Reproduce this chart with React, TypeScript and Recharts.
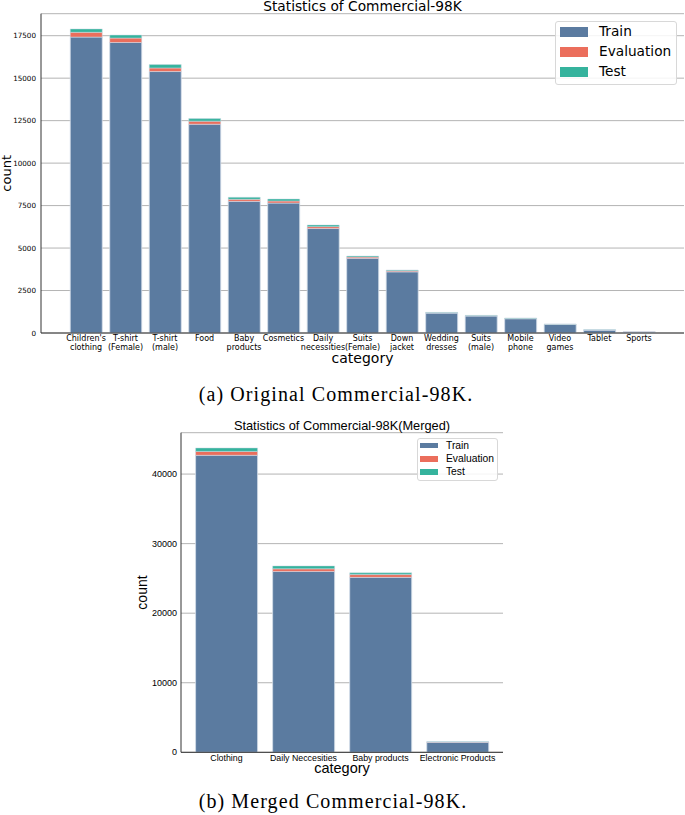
import React from 'react';
import { BarChart, Bar, XAxis, YAxis, CartesianGrid, Legend } from 'recharts';

// ---------- Data: (a) Original Commercial-98K ----------
const categoriesA = [
  "Children's clothing", 'T-shirt (Female)', 'T-shirt (male)', 'Food', 'Baby products',
  'Cosmetics', 'Daily necessities', 'Suits(Female)', 'Down jacket', 'Wedding dresses',
  'Suits (male)', 'Mobile phone', 'Video games', 'Tablet', 'Sports',
];
const tickLabelsA = [
  ["Children's", 'clothing'], ['T-shirt', '(Female)'], ['T-shirt', '(male)'], ['Food'],
  ['Baby', 'products'], ['Cosmetics'], ['Daily', 'necessities'], ['Suits', '(Female)'],
  ['Down', 'jacket'], ['Wedding', 'dresses'], ['Suits', '(male)'], ['Mobile', 'phone'],
  ['Video', 'games'], ['Tablet'], ['Sports'],
];
const trainA = [17420, 17100, 15390, 12290, 7750, 7650, 6150, 4400, 3600, 1170, 1000, 840, 500, 170, 60];
const evalA = [280, 260, 210, 180, 120, 120, 110, 70, 60, 25, 20, 20, 15, 10, 8];
const testA = [200, 180, 200, 150, 120, 120, 100, 60, 50, 20, 20, 20, 15, 15, 10];
const yTicksA = [0, 2500, 5000, 7500, 10000, 12500, 15000, 17500];

// ---------- Data: (b) Merged Commercial-98K ----------
const categoriesB = ['Clothing', 'Daily Neccesities', 'Baby products', 'Electronic Products'];
const trainB = [42700, 26000, 25150, 1460];
const evalB = [560, 380, 400, 30];
const testB = [500, 420, 250, 35];
const yTicksB = [0, 10000, 20000, 30000, 40000];

const seriesNames = ['Train', 'Evaluation', 'Test'];

const dataA = categoriesA.map((name, i) => ({ name, train: trainA[i], evaluation: evalA[i], test: testA[i] }));
const dataB = categoriesB.map((name, i) => ({ name, train: trainB[i], evaluation: evalB[i], test: testB[i] }));

const maxA = Math.max(...dataA.map((d) => d.train + d.evaluation + d.test)) * 1.05;
const maxB = Math.max(...dataB.map((d) => d.train + d.evaluation + d.test)) * 1.05;

const FONT_A = '"DejaVu Sans", sans-serif';
const FONT_B = '"Liberation Sans", Arial, sans-serif';
const FONT_CAP = '"Liberation Serif", "Times New Roman", serif';
const C_TRAIN = '#5b7ba0';
const C_EVAL = '#eb6e5c';
const C_TEST = '#35b39d';
const EDGE = '#d3dde8';
const GRID = '#b4b4b4';
const SPINE = '#333333';

const TickA = (props: any) => {
  const { x, y, payload } = props;
  const idx = categoriesA.indexOf(payload.value);
  const lines = idx >= 0 ? tickLabelsA[idx] : [String(payload.value)];
  return (
    <text x={x} y={y} textAnchor="middle" fontFamily={FONT_A} fontSize={8} fill="#000">
      {lines.map((l: string, i: number) => (
        <tspan key={i} x={x} y={y + 7.5 + i * 9}>{l}</tspan>
      ))}
    </text>
  );
};

const TickB = (props: any) => {
  const { x, y, payload } = props;
  return (
    <text x={x} y={y + 9} textAnchor="middle" fontFamily={FONT_B} fontSize={8.8} fill="#000">
      {payload.value}
    </text>
  );
};

const AxisTitle = (props: any) => {
  const { viewBox, text, vertical, dx = 0, dy = 0, fontFamily, fontSize } = props;
  const vb = viewBox || { x: 0, y: 0, width: 0, height: 0 };
  if (vertical) {
    const cx = vb.x + dx;
    const cy = vb.y + vb.height / 2;
    return (
      <text x={cx} y={cy} transform={`rotate(-90 ${cx} ${cy})`} textAnchor="middle"
        fontFamily={fontFamily} fontSize={fontSize} fill="#000">{text}</text>
    );
  }
  const cx = vb.x + vb.width / 2;
  const cy = vb.y + dy;
  return (
    <text x={cx} y={cy} textAnchor="middle" fontFamily={fontFamily} fontSize={fontSize} fill="#000">{text}</text>
  );
};

const makeLegend = (opts: any) => (props: any) => {
  const items = [...(props.payload || [])].sort(
    (a: any, b: any) => seriesNames.indexOf(a.value) - seriesNames.indexOf(b.value)
  );
  return (
    <div style={{
      boxSizing: 'border-box', width: opts.w, height: opts.h, border: '1px solid #d8d8d8',
      borderRadius: 3, background: 'rgba(255,255,255,0.85)', paddingTop: opts.padTop,
      paddingLeft: opts.padLeft, fontFamily: opts.font, fontSize: opts.fontSize, color: '#000',
    }}>
      {items.map((p: any, i: number) => (
        <div key={i} style={{ display: 'flex', alignItems: 'center', height: opts.rowH, whiteSpace: 'nowrap' }}>
          <span style={{ display: 'inline-block', width: opts.sw, height: opts.sh, background: p.color, marginRight: opts.gap }} />
          <span style={{ lineHeight: 1 }}>{p.value}</span>
        </div>
      ))}
    </div>
  );
};

const LegendA = makeLegend({ w: 122, h: 64.3, padTop: 0.5, padLeft: 4, font: FONT_A, fontSize: 13.7, rowH: 20, sw: 28, sh: 9.5, gap: 11 });
const LegendB = makeLegend({ w: 81.3, h: 42.7, padTop: 0, padLeft: 2.3, font: FONT_B, fontSize: 10.3, rowH: 13.3, sw: 18.3, sh: 5.5, gap: 7.7 });

export default function App() {
  return (
    <div style={{ position: 'absolute', left: 0, top: 0, width: 685, height: 815, background: '#fff', overflow: 'hidden' }}>
      {/* (a) */}
      <div style={{ position: 'absolute', left: 0, top: 0 }}>
        <BarChart width={685} height={380} data={dataA} margin={{ top: 13.7, right: 1, bottom: 0, left: 0 }}>
          <CartesianGrid vertical={false} stroke={GRID} strokeWidth={1} />
          <XAxis dataKey="name" interval={0} tick={<TickA />} tickLine={false} tickSize={0} tickMargin={0}
            height={47} padding={{ left: 25.3, right: 25.3 }} axisLine={{ stroke: SPINE }}
            label={<AxisTitle text="category" dy={29.5} fontFamily={FONT_A} fontSize={14} />} />
          <XAxis xAxisId="top" dataKey="name" orientation="top" height={0} tick={false} tickLine={false} axisLine={{ stroke: SPINE }} />
          <YAxis type="number" domain={[0, maxA]} ticks={yTicksA} width={41} tickLine={false} tickSize={3} tickMargin={2}
            tick={{ fontFamily: FONT_A, fontSize: 7.2, fill: '#000' }} axisLine={{ stroke: SPINE }}
            label={<AxisTitle text="count" vertical dx={11.5} fontFamily={FONT_A} fontSize={13} />} />
          <YAxis yAxisId="right" orientation="right" width={0} tick={false} tickLine={false} axisLine={{ stroke: SPINE }} />
          <Legend layout="vertical" align="center" verticalAlign="middle" content={LegendA}
            wrapperStyle={{ left: 555, top: 20.7, width: 122, height: 64.3 }} />
          <Bar dataKey="train" name={seriesNames[0]} stackId="s" fill={C_TRAIN} stroke={EDGE} strokeWidth={0.8} isAnimationActive={false} />
          <Bar dataKey="evaluation" name={seriesNames[1]} stackId="s" fill={C_EVAL} stroke={EDGE} strokeWidth={0.5} isAnimationActive={false} />
          <Bar dataKey="test" name={seriesNames[2]} stackId="s" fill={C_TEST} stroke={EDGE} strokeWidth={0.5} isAnimationActive={false} />
        </BarChart>
      </div>

      {/* (b) */}
      <div style={{ position: 'absolute', left: 0, top: 410 }}>
        <BarChart width={685} height={400} data={dataB} margin={{ top: 22.7, right: 182, bottom: 0, left: 120 }}>
          <CartesianGrid vertical={false} stroke={GRID} strokeWidth={1} />
          <XAxis dataKey="name" interval={0} tick={<TickB />} tickLine={false} tickSize={0} tickMargin={0}
            height={57.7} padding={{ left: 6.9, right: 6.9 }} axisLine={{ stroke: SPINE }}
            label={<AxisTitle text="category" dy={20.5} fontFamily={FONT_B} fontSize={14.5} />} />
          <XAxis xAxisId="top" dataKey="name" orientation="top" height={0} tick={false} tickLine={false} axisLine={{ stroke: SPINE }} />
          <YAxis type="number" domain={[0, maxB]} ticks={yTicksB} width={61} tickLine={false} tickSize={2} tickMargin={2}
            tick={{ fontFamily: FONT_B, fontSize: 9, fill: '#000' }} axisLine={{ stroke: SPINE }}
            label={<AxisTitle text="count" vertical dx={27} fontFamily={FONT_B} fontSize={14} />} />
          <YAxis yAxisId="right" orientation="right" width={0} tick={false} tickLine={false} axisLine={{ stroke: SPINE }} />
          <Legend layout="vertical" align="center" verticalAlign="middle" content={LegendB}
            wrapperStyle={{ left: 416.7, top: 28, width: 81.3, height: 42.7 }} />
          <Bar dataKey="train" name={seriesNames[0]} stackId="s" fill={C_TRAIN} stroke={EDGE} strokeWidth={0.8} isAnimationActive={false} />
          <Bar dataKey="evaluation" name={seriesNames[1]} stackId="s" fill={C_EVAL} stroke={EDGE} strokeWidth={0.5} isAnimationActive={false} />
          <Bar dataKey="test" name={seriesNames[2]} stackId="s" fill={C_TEST} stroke={EDGE} strokeWidth={0.5} isAnimationActive={false} />
        </BarChart>
      </div>

      {/* titles and captions */}
      <svg width={685} height={815} style={{ position: 'absolute', left: 0, top: 0, pointerEvents: 'none' }}>
        <text x={362.5} y={11} textAnchor="middle" fontFamily={FONT_A} fontSize={13.75} fill="#000">Statistics of Commercial-98K</text>
        <text x={342} y={429.5} textAnchor="middle" fontFamily={FONT_B} fontSize={12.8} fill="#000">Statistics of Commercial-98K(Merged)</text>
        <text x={336} y={401} textAnchor="middle" fontFamily={FONT_CAP} fontSize={20} letterSpacing={1.1} fill="#000">(a) Original Commercial-98K.</text>
        <text x={333} y={808} textAnchor="middle" fontFamily={FONT_CAP} fontSize={20} letterSpacing={1.1} fill="#000">(b) Merged Commercial-98K.</text>
      </svg>
    </div>
  );
}
